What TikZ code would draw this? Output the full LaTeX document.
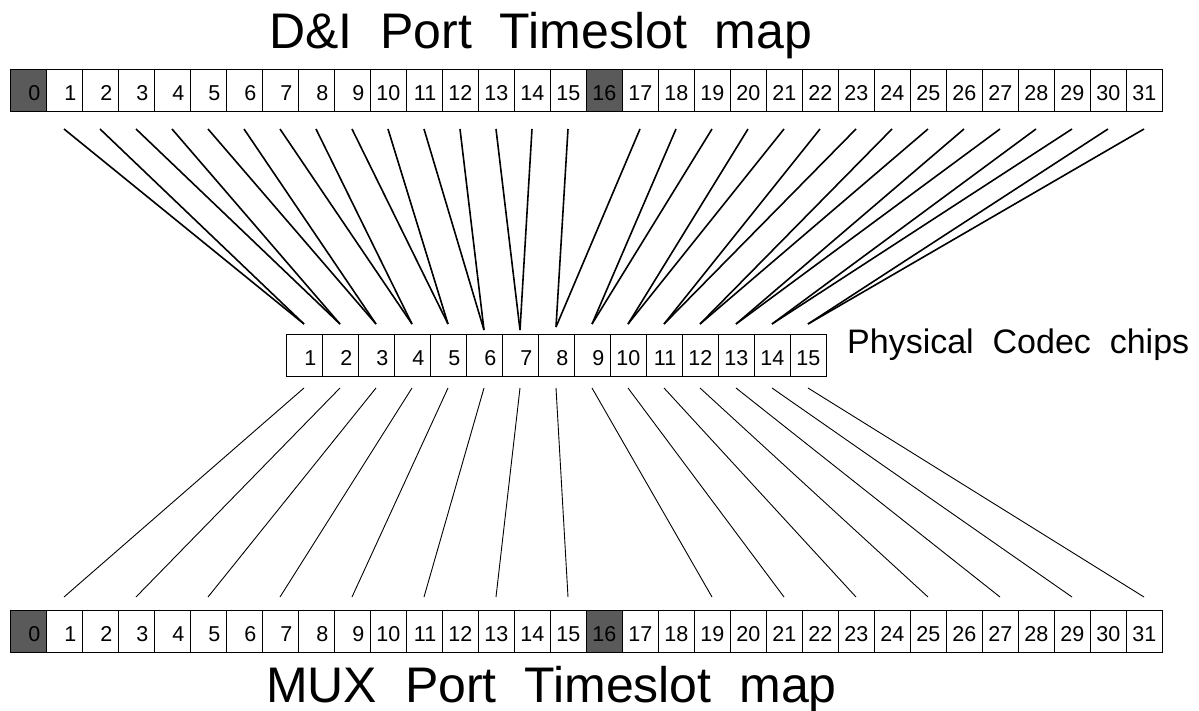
\documentclass[tikz,border=0pt]{standalone}
\usepackage{fontspec}
\setmainfont{Liberation Sans}
\definecolor{slotgray}{RGB}{90,90,90}
\begin{document}
\begin{tikzpicture}[x=1pt,y=-1pt,
  cell/.style={draw=black,line width=1pt,minimum width=36pt,minimum height=42pt,inner sep=0pt,outer sep=0pt},
  dark/.style={cell,fill=slotgray},
  num/.style={anchor=base east,inner sep=0pt,font=\fontsize{21.5}{26}\selectfont},
  title/.style={anchor=base west,inner sep=0pt,font=\fontsize{50}{60}\selectfont},
  label/.style={anchor=base west,inner sep=0pt,font=\fontsize{34}{40}\selectfont},
  upline/.style={line width=1.6pt},
  lowline/.style={line width=0.9pt}]
\useasboundingbox (0,0) rectangle (1199,711);

% titles
\node[title] (toptitle) at (269,49) {D\&I\ \ Port\ \ Timeslot\ \ map};
\node[title] (bottitle) at (266,702) {MUX\ \ Port\ \ Timeslot\ \ map};
\node[label] (chiplabel) at (847,353) {Physical\ \ Codec\ \ chips};

% timeslot rows
\foreach \i in {0,...,31}{
  \ifnum\i=0 \def\st{dark}\else\ifnum\i=16 \def\st{dark}\else\def\st{cell}\fi\fi
  \node[\st] (t\i) at ({28+36*\i},91) {};
  \node[num] (tn\i) at ([xshift=-5.5pt,yshift=11pt]t\i.south east) {\i};
  \node[\st] (b\i) at ({28+36*\i},631) {};
  \node[num] (bn\i) at ([xshift=-5.5pt,yshift=11pt]b\i.south east) {\i};
}

% codec chips
\foreach \k in {1,...,15}{
  \node[cell] (c\k) at ({304+36*(\k-1)},355) {};
  \node[num] (cn\k) at ([xshift=-5.5pt,yshift=11pt]c\k.south east) {\k};
}

% D&I -> chips
\foreach \s/\c in {1/1,2/1,3/2,4/2,5/3,6/3,7/4,8/4,9/5,10/5,11/6,12/6,13/7,14/7,15/8,
                   17/8,18/9,19/9,20/10,21/10,22/11,23/11,24/12,25/12,26/13,27/13,28/14,29/14,30/15,31/15}{
  \ifnum\c=6 \def\e{4}\else\ifnum\c=7 \def\e{4}\else\ifnum\c=8 \def\e{7}\else\def\e{10}\fi\fi\fi
  \draw[upline] ([yshift=-17pt]t\s.south) -- ([yshift=\e pt]c\c.north);
}

% chips -> MUX
\foreach \k/\s in {1/1,2/3,3/5,4/7,5/9,6/11,7/13,8/15,9/19,10/21,11/23,12/25,13/27,14/29,15/31}{
  \draw[lowline] ([yshift=-12pt]c\k.south) -- ([yshift=13pt]b\s.north);
}
\end{tikzpicture}
\end{document}
